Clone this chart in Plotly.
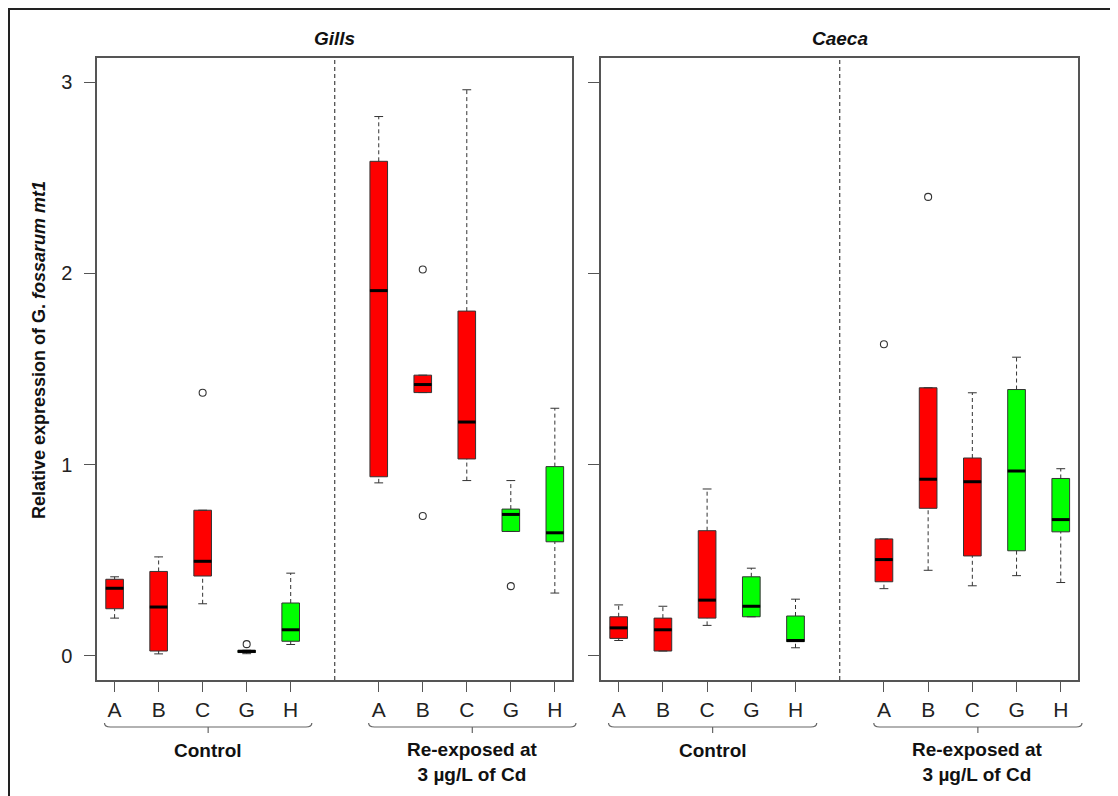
import plotly.graph_objects as go

# ---------------- data ----------------
categories = ["A", "B", "C", "G", "H"]
cat_colors = ["#FF0000", "#FF0000", "#FF0000", "#00FF00", "#00FF00"]
group_names = ["Control", "Re-exposed at<br>3 µg/L of Cd"]
panels = ["Gills", "Caeca"]

# Gills - Control
gills_ctrl_low = [0.198, 0.011, 0.273, 0.012, 0.060]
gills_ctrl_q1 = [0.247, 0.026, 0.418, 0.018, 0.077]
gills_ctrl_med = [0.354, 0.256, 0.495, 0.024, 0.137]
gills_ctrl_q3 = [0.401, 0.442, 0.762, 0.030, 0.277]
gills_ctrl_high = [0.414, 0.518, 0.762, 0.030, 0.433]
gills_ctrl_out = [[], [], [1.376], [0.062], []]

# Gills - Re-exposed
gills_reexp_low = [0.905, 1.377, 0.917, 0.651, 0.329]
gills_reexp_q1 = [0.937, 1.377, 1.030, 0.651, 0.597]
gills_reexp_med = [1.910, 1.419, 1.223, 0.740, 0.644]
gills_reexp_q3 = [2.586, 1.468, 1.803, 0.768, 0.990]
gills_reexp_high = [2.820, 1.468, 2.960, 0.917, 1.295]
gills_reexp_out = [[], [2.02, 0.732], [], [0.365], []]

# Caeca - Control
caeca_ctrl_low = [0.081, 0.026, 0.160, 0.205, 0.043]
caeca_ctrl_q1 = [0.092, 0.026, 0.198, 0.205, 0.075]
caeca_ctrl_med = [0.147, 0.137, 0.292, 0.260, 0.081]
caeca_ctrl_q3 = [0.205, 0.198, 0.655, 0.414, 0.209]
caeca_ctrl_high = [0.267, 0.260, 0.873, 0.459, 0.297]
caeca_ctrl_out = [[], [], [], [], []]

# Caeca - Re-exposed
caeca_reexp_low = [0.352, 0.448, 0.367, 0.420, 0.384]
caeca_reexp_q1 = [0.388, 0.772, 0.523, 0.550, 0.649]
caeca_reexp_med = [0.504, 0.924, 0.911, 0.967, 0.713]
caeca_reexp_q3 = [0.612, 1.402, 1.035, 1.393, 0.928]
caeca_reexp_high = [0.612, 1.402, 1.376, 1.562, 0.979]
caeca_reexp_out = [[1.63], [2.40], [], [], []]

y_ticks = [0, 1, 2, 3]

# ---------------- layout helpers ----------------
FONT = "Liberation Sans, Arial, Helvetica, sans-serif"
OFF = 8  # page body margin offset
W, H = 1118 - OFF, 796 - OFF
ML, MR, MT, MB = 97 - OFF, 40, 58 - OFF, 116
PW = W - ML - MR
PH = H - MT - MB
X_RANGE = [0.6, 11.39]
Y_RANGE = [-0.1255, 3.126]
BOX_W = 0.4
CAP_W = 0.2
domains = [[0.0, 475 / PW], [504 / PW, 1.0]]

ctrl_pos = [1, 2, 3, 4, 5]
reexp_pos = [7, 8, 9, 10, 11]
sep_pos = 6

def px_x(px):  # page pixel -> paper
    return (px - OFF - ML) / PW

def px_y(py):
    return (MT + PH - (py - OFF)) / PH

def data_to_paper_x(x, panel_idx):
    d0, d1 = domains[panel_idx]
    return d0 + (x - X_RANGE[0]) / (X_RANGE[1] - X_RANGE[0]) * (d1 - d0)

panel_data = [
    [
        (gills_ctrl_low, gills_ctrl_q1, gills_ctrl_med, gills_ctrl_q3, gills_ctrl_high, gills_ctrl_out),
        (gills_reexp_low, gills_reexp_q1, gills_reexp_med, gills_reexp_q3, gills_reexp_high, gills_reexp_out),
    ],
    [
        (caeca_ctrl_low, caeca_ctrl_q1, caeca_ctrl_med, caeca_ctrl_q3, caeca_ctrl_high, caeca_ctrl_out),
        (caeca_reexp_low, caeca_reexp_q1, caeca_reexp_med, caeca_reexp_q3, caeca_reexp_high, caeca_reexp_out),
    ],
]

fig = go.Figure()
LINE_C = "#333333"

for p_idx, groups in enumerate(panel_data):
    xa = "x" if p_idx == 0 else "x2"
    ya = "y" if p_idx == 0 else "y2"
    wx, wy, cx, cy, mx, my, ox, oy = [], [], [], [], [], [], [], []
    for g_idx, (low, q1, med, q3, high, out) in enumerate(groups):
        pos = ctrl_pos if g_idx == 0 else reexp_pos
        for color in ["#FF0000", "#00FF00"]:
            idx = [i for i in range(len(categories)) if cat_colors[i] == color]
            fig.add_trace(go.Box(
                x=[pos[i] for i in idx],
                q1=[q1[i] for i in idx],
                median=[med[i] for i in idx],
                q3=[q3[i] for i in idx],
                lowerfence=[q1[i] for i in idx],
                upperfence=[q3[i] for i in idx],
                width=BOX_W, whiskerwidth=0,
                fillcolor=color, line=dict(color=LINE_C, width=1),
                boxpoints=False, hoverinfo="skip", showlegend=False,
                xaxis=xa, yaxis=ya,
            ))
        for i in range(len(categories)):
            x = pos[i]
            if high[i] > q3[i]:
                wx += [x, x, None]; wy += [q3[i], high[i], None]
            if low[i] < q1[i]:
                wx += [x, x, None]; wy += [low[i], q1[i], None]
            for v in (low[i], high[i]):
                cx += [x - CAP_W / 2, x + CAP_W / 2, None]; cy += [v, v, None]
            mx += [x - BOX_W / 2, x + BOX_W / 2, None]; my += [med[i], med[i], None]
            for v in out[i]:
                ox.append(x); oy.append(v)
    fig.add_trace(go.Scatter(x=wx, y=wy, mode="lines", line=dict(color=LINE_C, width=1, dash="4px,3px"),
                             hoverinfo="skip", showlegend=False, xaxis=xa, yaxis=ya))
    fig.add_trace(go.Scatter(x=cx, y=cy, mode="lines", line=dict(color=LINE_C, width=1),
                             hoverinfo="skip", showlegend=False, xaxis=xa, yaxis=ya))
    fig.add_trace(go.Scatter(x=mx, y=my, mode="lines", line=dict(color="#000000", width=3),
                             hoverinfo="skip", showlegend=False, xaxis=xa, yaxis=ya))
    fig.add_trace(go.Scatter(x=ox, y=oy, mode="markers",
                             marker=dict(symbol="circle-open", size=7, color=LINE_C, line=dict(width=1.1)),
                             hoverinfo="skip", showlegend=False, xaxis=xa, yaxis=ya))

tick_vals = ctrl_pos + reexp_pos
tick_text = categories + categories

axis_common = dict(
    range=X_RANGE, showgrid=False, zeroline=False, showline=True, mirror=True,
    linecolor="#555555", linewidth=1.5, ticks="outside", ticklen=10, tickwidth=1,
    tickcolor="#555555", tickvals=tick_vals, ticktext=tick_text,
    tickfont=dict(family=FONT, size=21, color="#222222"), fixedrange=True,
)
yaxis_common = dict(
    range=Y_RANGE, showgrid=False, zeroline=False, showline=True, mirror=True,
    linecolor="#555555", linewidth=1.5, ticks="outside", ticklen=11, tickwidth=1,
    tickcolor="#555555", tickvals=y_ticks, ticktext=[str(t) for t in y_ticks],
    tickfont=dict(family=FONT, size=20, color="#222222"), fixedrange=True,
    ticklabelstandoff=8,
)

fig.update_layout(
    width=W, height=H,
    margin=dict(l=ML, r=MR, t=MT, b=MB, pad=0),
    paper_bgcolor="white", plot_bgcolor="white",
    showlegend=False,
    xaxis=dict(domain=domains[0], anchor="y", **axis_common),
    xaxis2=dict(domain=domains[1], anchor="y2", **axis_common),
    yaxis=dict(anchor="x", **yaxis_common),
    yaxis2=dict(anchor="x2", showticklabels=False, **yaxis_common),
)

shapes = []
annotations = []
for p_idx, name in enumerate(panels):
    xa = "x" if p_idx == 0 else "x2"
    shapes.append(dict(type="line", xref=xa, yref="paper", x0=sep_pos, x1=sep_pos, y0=0, y1=1,
                       line=dict(color="#444444", width=1.2, dash="4px,3px")))
    annotations.append(dict(text=f"<b><i>{name}</i></b>", xref=xa, yref="paper", x=sep_pos,
                            y=px_y(38), showarrow=False, xanchor="center", yanchor="middle",
                            font=dict(family=FONT, size=19, color="#111111")))
    for g_idx, pos in enumerate([ctrl_pos, reexp_pos]):
        x0 = data_to_paper_x(pos[0] - 0.23, p_idx)
        x1 = data_to_paper_x(pos[-1] + 0.48, p_idx)
        xc = (x0 + x1) / 2
        yb, yu, yd = px_y(727), px_y(723), px_y(733)
        shapes.append(dict(type="path", xref="paper", yref="paper",
                           path=f"M {x0},{yu} Q {x0},{yb} {x0 + 0.006},{yb} L {x1 - 0.006},{yb} Q {x1},{yb} {x1},{yu} "
                                f"M {xc},{yb} L {xc},{yd}",
                           line=dict(color="#666666", width=1.2)))
        ylab = px_y(750) if g_idx == 0 else px_y(762)
        annotations.append(dict(text="<b>" + group_names[g_idx] + "</b>", xref="paper", yref="paper",
                                x=xc, y=ylab, showarrow=False, xanchor="center", yanchor="middle",
                                font=dict(family=FONT, size=19, color="#111111")))

annotations.append(dict(text="<b>Relative expression of G. <i>fossarum mt1</i></b>", xref="paper", yref="paper",
                        x=px_x(39), y=px_y(350), showarrow=False, textangle=-90,
                        xanchor="center", yanchor="middle",
                        font=dict(family=FONT, size=18, color="#111111")))

# outer figure frame (top/left edges visible)
shapes.append(dict(type="rect", xref="paper", yref="paper",
                   x0=px_x(9), x1=px_x(1140), y0=px_y(9), y1=px_y(820),
                   line=dict(color="#222222", width=2), fillcolor="rgba(0,0,0,0)"))

fig.update_layout(shapes=shapes, annotations=annotations)

fig.write_html("out.html")
